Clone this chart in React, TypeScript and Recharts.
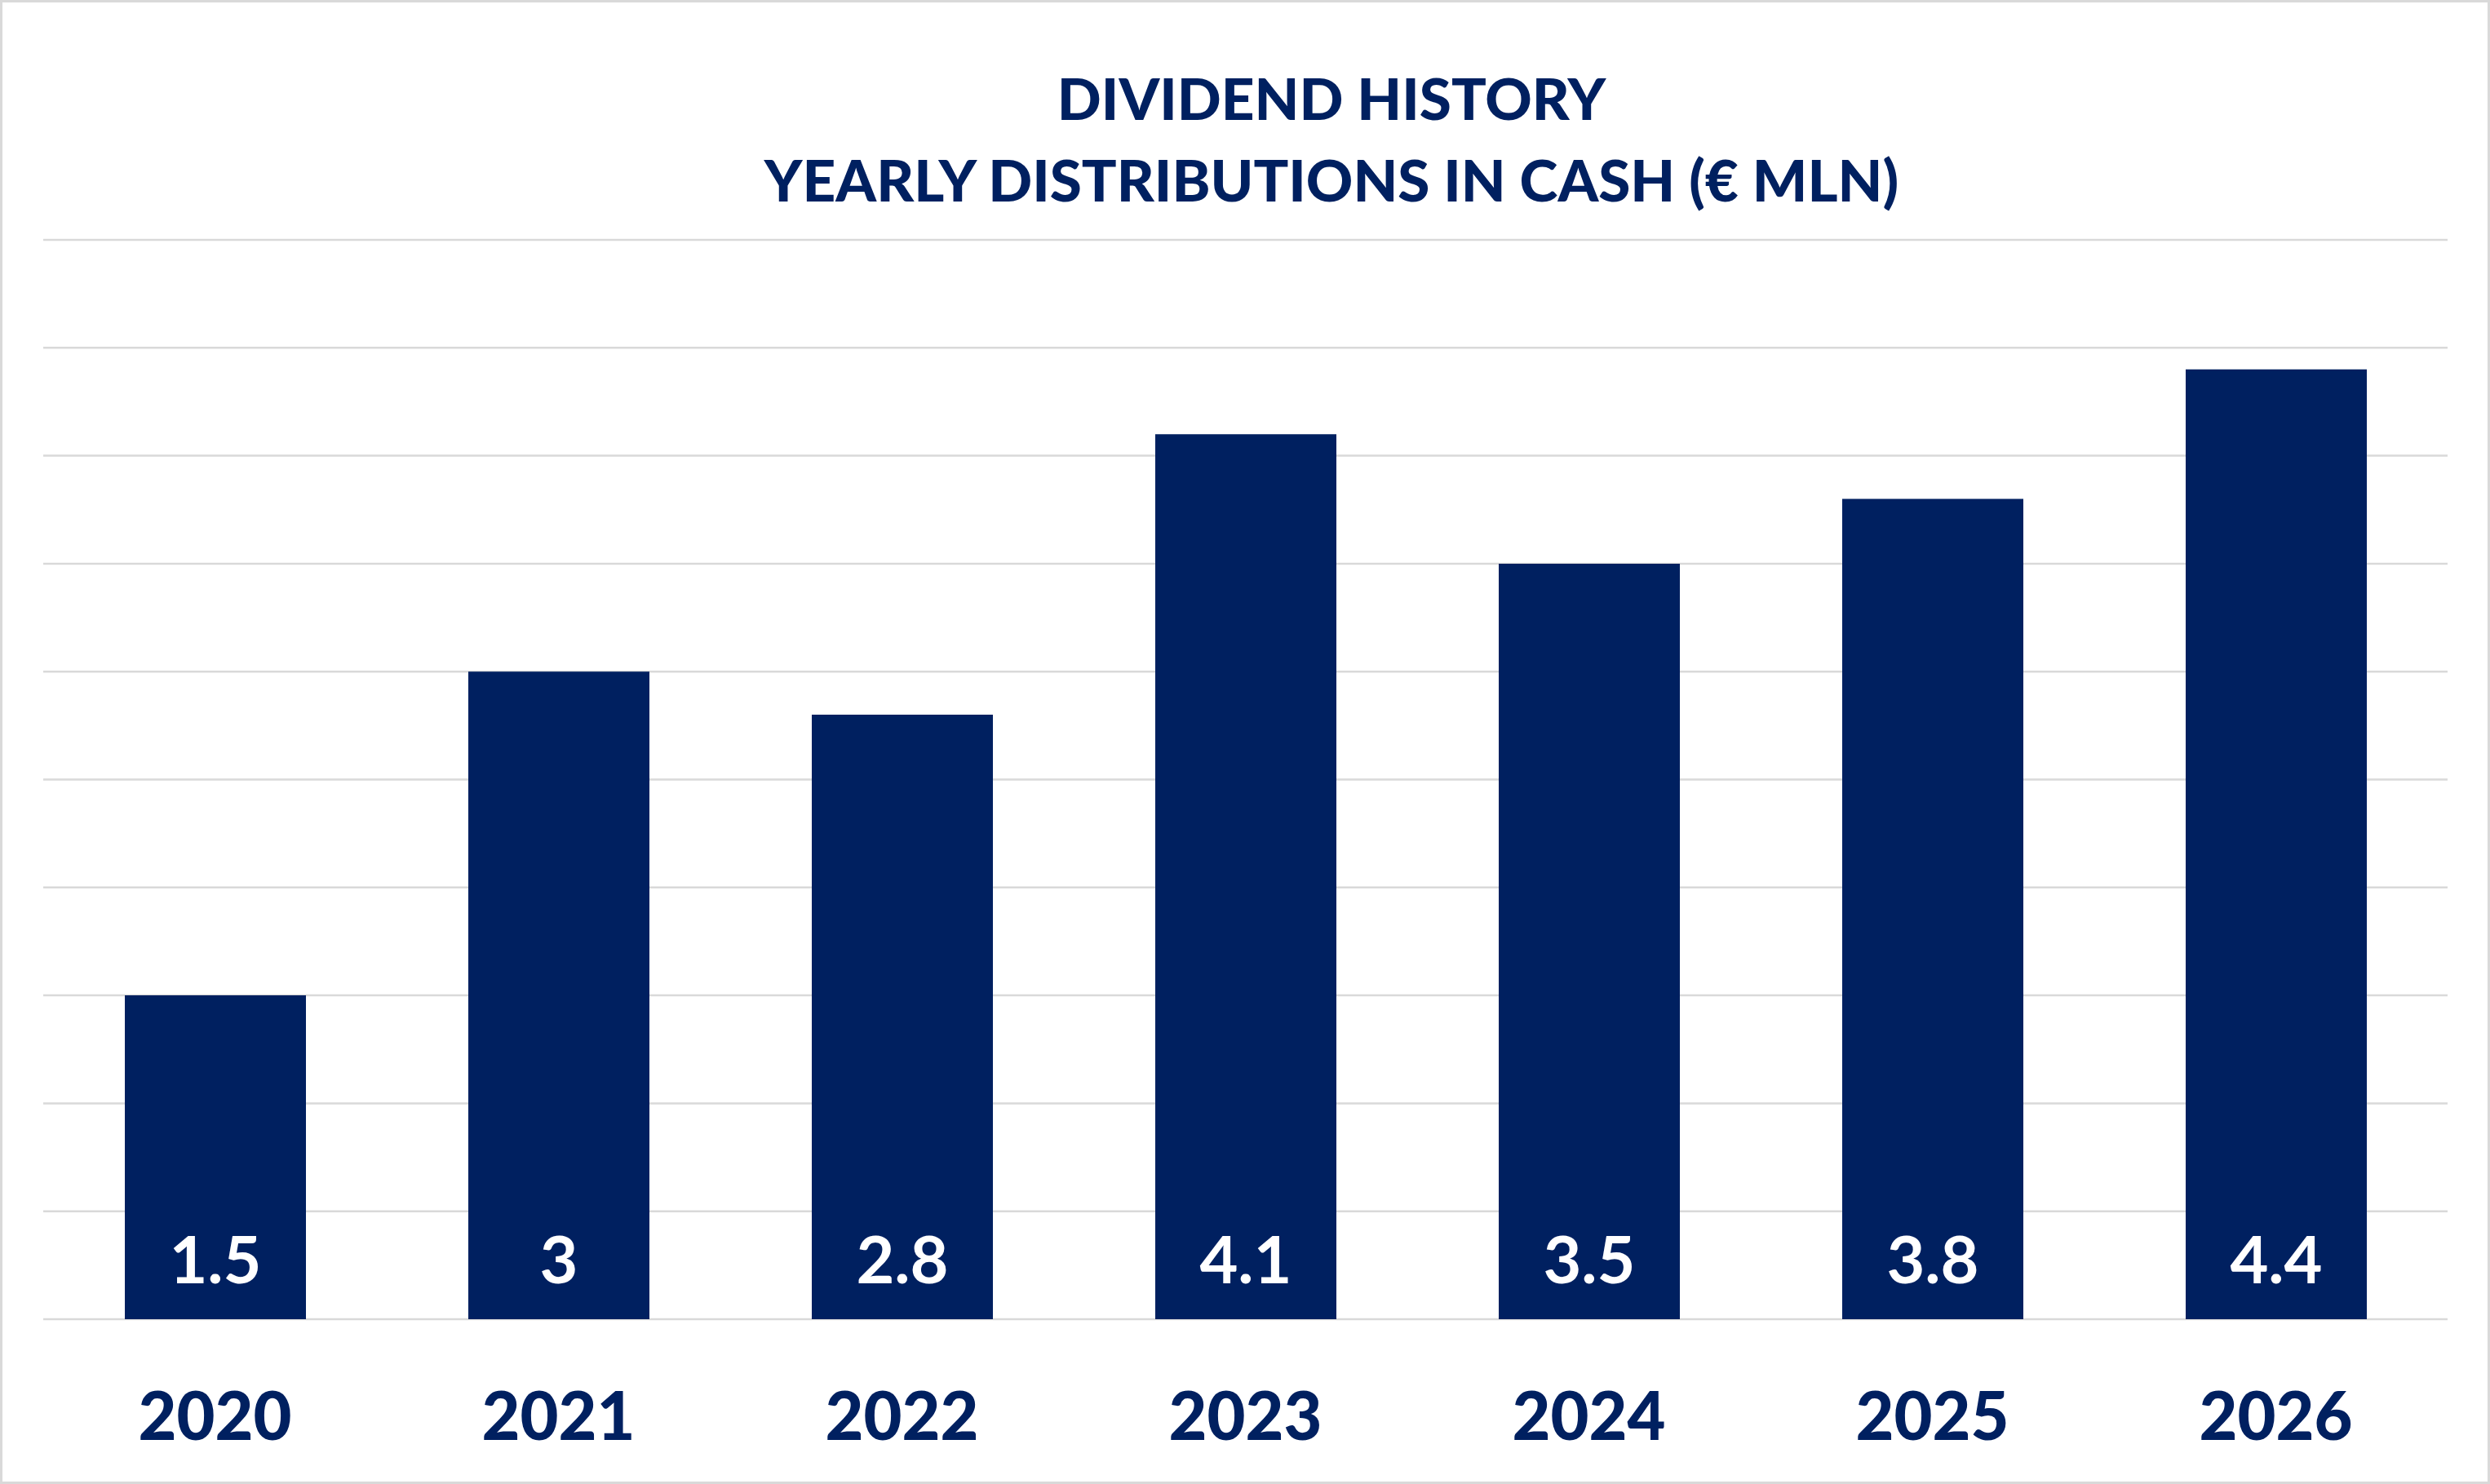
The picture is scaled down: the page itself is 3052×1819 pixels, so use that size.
import React from 'react'
import { BarChart, Bar, XAxis, YAxis, CartesianGrid, LabelList } from 'recharts'

const years = ['2020', '2021', '2022', '2023', '2024', '2025', '2026']
const distributions = [1.5, 3, 2.8, 4.1, 3.5, 3.8, 4.4]
const yTicks = [0, 0.5, 1, 1.5, 2, 2.5, 3, 3.5, 4, 4.5, 5]
const titleLines = ['DIVIDEND HISTORY', 'YEARLY DISTRIBUTIONS IN CASH (€ MLN)']

const NAVY = '#002060'
const GRID = '#d9d9d9'
const FONT = 'Lato, "Noto Sans", sans-serif'

const W = 3052
const H = 1819

export default function App() {
  const chartData = years.map((year, i) => ({ year, value: distributions[i] }))

  return (
    <div
      style={{
        position: 'absolute',
        left: 0,
        top: 0,
        width: W,
        height: H,
        boxSizing: 'border-box',
        border: `3px solid ${GRID}`,
        background: '#ffffff',
        fontFamily: FONT,
      }}
    >
      <div style={{ position: 'absolute', left: -3, top: -3 }}>
        <BarChart
          width={W}
          height={H}
          data={chartData}
          margin={{ top: 294, right: 52, left: 53, bottom: 0 }}
        >
          <CartesianGrid vertical={false} stroke={GRID} strokeWidth={2.5} />
          <YAxis hide domain={[0, 5]} ticks={yTicks} />
          <XAxis
            dataKey="year"
            height={202}
            axisLine={false}
            tickLine={false}
            tickMargin={84}
            tick={{ fill: NAVY, fontSize: 81, fontWeight: 900, fontFamily: FONT }}
          />
          <Bar dataKey="value" fill={NAVY} barSize={222} isAnimationActive={false}>
            <LabelList
              dataKey="value"
              position="insideBottom"
              offset={44}
              fill="#ffffff"
              fontSize={81}
              fontWeight={700}
              fontFamily={FONT}
            />
          </Bar>
        </BarChart>
        <svg
          width={W}
          height={H}
          style={{ position: 'absolute', left: 0, top: 0, pointerEvents: 'none' }}
        >
          {titleLines.map((line, i) => (
            <text
              key={line}
              x={1632}
              y={147 + i * 100}
              textAnchor="middle"
              fill={NAVY}
              fontSize={71}
              fontWeight={900}
              fontFamily={FONT}
            >
              {line}
            </text>
          ))}
        </svg>
      </div>
    </div>
  )
}
